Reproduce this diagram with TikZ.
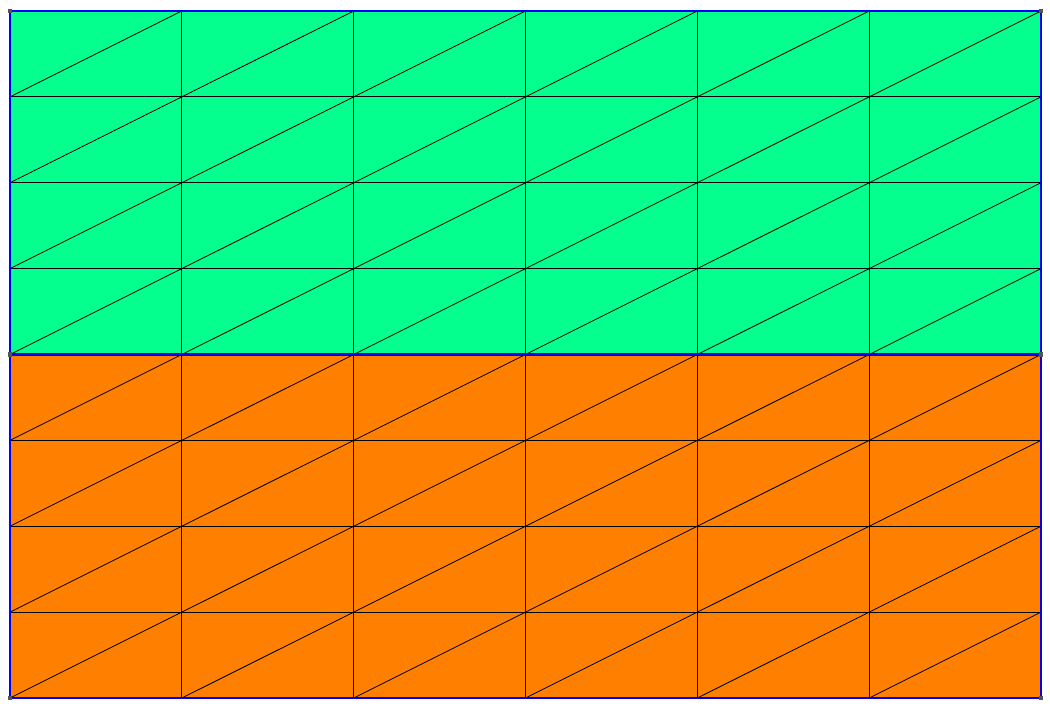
\documentclass[tikz,border=0pt]{standalone}
\definecolor{meshgreen}{RGB}{5,255,143}
\definecolor{meshorange}{RGB}{255,128,0}
\definecolor{meshblue}{RGB}{0,0,255}
\definecolor{vertgray}{RGB}{85,85,85}
\tikzset{
  meshline/.style={black, line width=0.8pt},
  border/.style={meshblue, line width=2.2pt},
  vertex/.style={fill=vertgray, draw=none, minimum size=4.5pt, inner sep=0pt, rectangle}
}
\begin{document}
\begin{tikzpicture}[x=1pt,y=-1pt]
\useasboundingbox (0,0) rectangle (1050,709);
\def\xl{10}\def\xr{1041}\def\yt{11}\def\yb{698}\def\ym{354.5}
\fill[meshgreen] (\xl,\yt) rectangle (\xr,\ym);
\fill[meshorange] (\xl,\ym) rectangle (\xr,\yb);
% grid
\foreach \i in {1,...,5} {
  \draw[meshline] ({\xl+\i*1031/6},\yt) -- ({\xl+\i*1031/6},\yb);
}
\foreach \j in {1,...,7} {
  \draw[meshline] (\xl,{\yt+\j*687/8}) -- (\xr,{\yt+\j*687/8});
}
% diagonals
\foreach \i in {0,...,5} {
  \foreach \j in {0,...,7} {
    \draw[meshline] ({\xl+\i*1031/6},{\yt+(\j+1)*687/8}) -- ({\xl+(\i+1)*1031/6},{\yt+\j*687/8});
  }
}
% boundary
\draw[border] (\xl,\yt) rectangle (\xr,\yb);
\draw[border] (\xl,\ym) -- (\xr,\ym);
% vertices
\node[vertex] (tl) at (\xl,\yt) {};
\node[vertex] (tr) at (\xr,\yt) {};
\node[vertex] (ml) at (\xl,\ym) {};
\node[vertex] (mr) at (\xr,\ym) {};
\node[vertex] (bl) at (\xl,\yb) {};
\node[vertex] (br) at (\xr,\yb) {};
\end{tikzpicture}
\end{document}
